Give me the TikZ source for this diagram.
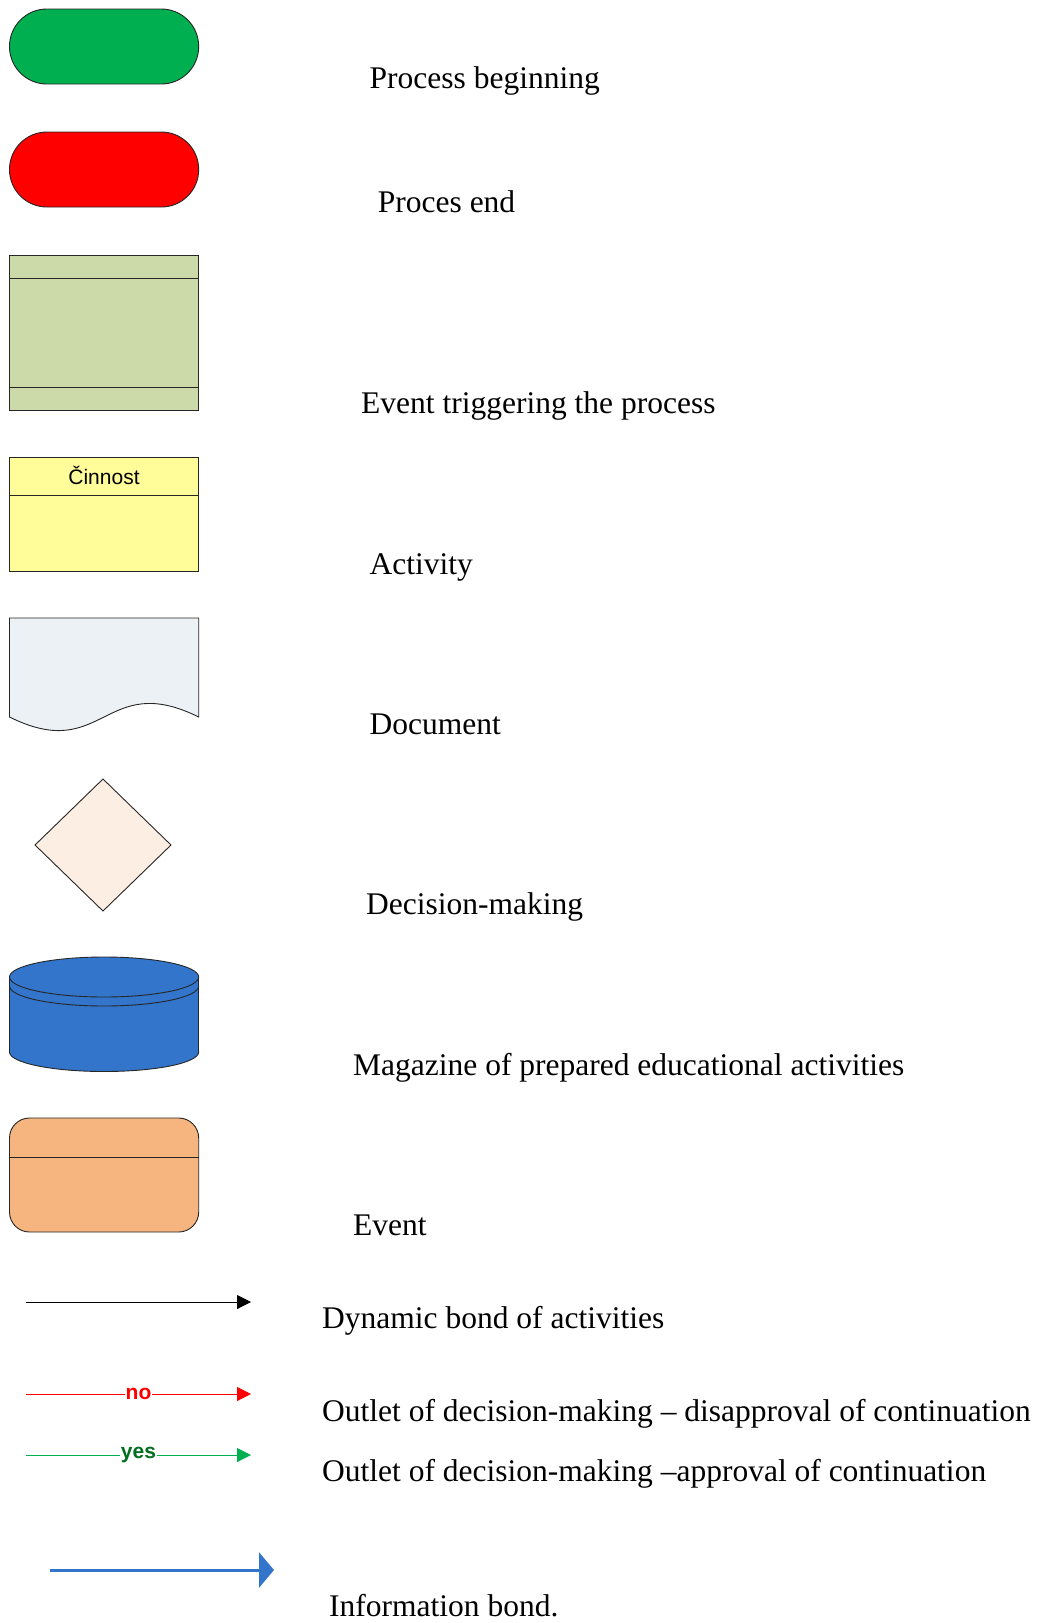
\documentclass[tikz,border=0pt]{standalone}
\usepackage{fontspec}
\setmainfont{Liberation Serif}
\newfontfamily\arialfont{Liberation Sans}
\usetikzlibrary{arrows.meta}

\definecolor{startgreen}{RGB}{0,176,80}
\definecolor{endred}{RGB}{255,0,0}
\definecolor{triggergreen}{RGB}{204,218,170}
\definecolor{activityyellow}{RGB}{255,253,153}
\definecolor{docgray}{RGB}{236,241,245}
\definecolor{decisionpeach}{RGB}{252,238,226}
\definecolor{storeblue}{RGB}{50,117,203}
\definecolor{eventorange}{RGB}{246,180,126}
\definecolor{yesgreen}{RGB}{0,110,30}

\begin{document}
\begin{tikzpicture}[x=1pt,y=-1pt,
  symbol/.style={draw=black!85, line width=0.9pt},
  legendtext/.style={anchor=base west, inner sep=0pt, font=\fontsize{31.5}{36}\selectfont},
  flow/.style={line width=1pt, -{Triangle[length=14pt,width=14pt]}},
  arrowtag/.style={fill=white, inner sep=1pt, font=\arialfont\bfseries\fontsize{21}{22}\selectfont}
]
\useasboundingbox (0,0) rectangle (1038,1623);

% process beginning / end terminators
\draw[symbol, fill=startgreen, rounded corners=37.4] (9.5,9) rectangle (198.7,84);
\draw[symbol, fill=endred, rounded corners=37.4] (9.5,132) rectangle (198.7,207);

% triggering event
\draw[symbol, fill=triggergreen] (9.5,255) rectangle (198.7,410);
\draw[symbol] (9.5,278) -- (198.7,278) (9.5,387) -- (198.7,387);

% activity
\draw[symbol, fill=activityyellow] (9.5,457) rectangle (198.7,571);
\draw[symbol] (9.5,495) -- (198.7,495);
\node[font=\arialfont\fontsize{21}{22}\selectfont, inner sep=0pt] (actTitle) at (104,475) {Činnost};

% document
\draw[symbol, fill=docgray] (9.5,618) -- (9.5,717)
  .. controls (104,764) and (104,670) .. (198.7,717) -- (198.7,618) -- cycle;

% decision
\draw[symbol, fill=decisionpeach] (103,779) -- (171,845) -- (103,911) -- (35,845) -- cycle;

% storage cylinder
\draw[symbol, fill=storeblue] (104.1,1052) ellipse [x radius=94.6, y radius=19.5];
\fill[storeblue] (9.5,977) rectangle (198.7,1052);
\draw[symbol] (9.5,977) -- (9.5,1052) (198.7,977) -- (198.7,1052);
\draw[symbol, fill=storeblue] (104.1,977) ellipse [x radius=94.6, y radius=20];
\begin{scope}
  \clip (0,986) rectangle (210,1020);
  \draw[symbol] (104.1,986) ellipse [x radius=94.6, y radius=20];
\end{scope}

% event
\draw[symbol, fill=eventorange, rounded corners=20] (9.5,1118) rectangle (198.7,1232);
\draw[symbol] (9.5,1157) -- (198.7,1157);

% connectors
\coordinate (dynA) at (26,1302);
\coordinate (dynB) at (251,1302);
\draw[flow] (dynA) -- (dynB);

\coordinate (noA) at (26,1394);
\coordinate (noB) at (251,1394);
\draw[flow, endred] (noA) -- node[arrowtag, text=endred] (noTag) {no} (noB);

\coordinate (yesA) at (26,1455);
\coordinate (yesB) at (251,1455);
\draw[flow, startgreen] (yesA) -- node[arrowtag, text=yesgreen] (yesTag) {yes} (yesB);

\coordinate (infoA) at (50,1570);
\coordinate (infoB) at (274,1570);
\draw[storeblue, line width=3pt, -{Triangle[length=15pt,width=35pt]}] (infoA) -- (infoB);

% legend texts
\node[legendtext] (lStart) at (369.5,88.3) {Process beginning};
\node[legendtext] (lEnd) at (377.7,212) {Proces end};
\node[legendtext] (lTrigger) at (361,413.6) {Event triggering the process};
\node[legendtext] (lActivity) at (369.5,574) {Activity};
\node[legendtext] (lDocument) at (369.5,734.5) {Document};
\node[legendtext] (lDecision) at (366,914.5) {Decision-making};
\node[legendtext] (lStore) at (353,1075) {Magazine of prepared educational activities};
\node[legendtext] (lEvent) at (353,1235) {Event};
\node[legendtext] (lDynamic) at (322,1328.5) {Dynamic bond of activities};
\node[legendtext] (lNo) at (322,1421.6) {Outlet of decision-making – disapproval of continuation};
\node[legendtext] (lYes) at (322,1481.6) {Outlet of decision-making –approval of continuation};
\node[legendtext] (lInfo) at (329,1616) {Information bond.};
\end{tikzpicture}
\end{document}
